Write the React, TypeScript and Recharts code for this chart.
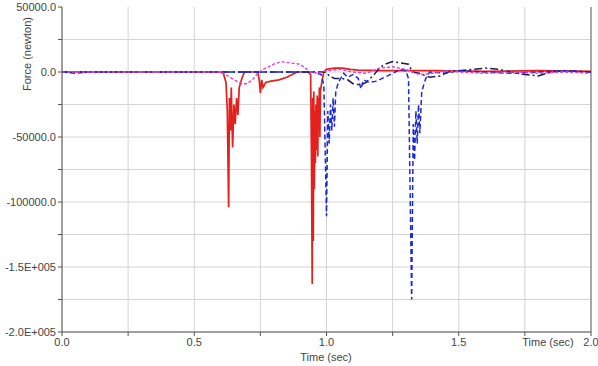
import React from "react";
import { LineChart, Line, XAxis, YAxis, CartesianGrid, ReferenceLine } from "recharts";

// time (sec) and force (x1000 newton) per series
const redT = [0, 0.3, 0.6, 0.61, 0.62, 0.625, 0.63, 0.633, 0.637, 0.64, 0.645, 0.65, 0.655, 0.66, 0.665, 0.67, 0.68, 0.69, 0.74, 0.745, 0.75, 0.755, 0.76, 0.77, 0.79, 0.82, 0.85, 0.87, 0.89, 0.93, 0.94, 0.943, 0.946, 0.948, 0.95, 0.952, 0.954, 0.956, 0.958, 0.96, 0.962, 0.965, 0.967, 0.969, 0.971, 0.973, 0.975, 0.977, 0.982, 0.99, 1.0, 1.03, 1.06, 1.09, 1.12, 1.2, 1.4, 1.6, 1.8, 2.0];
const redV = [0, 0, 0, -1, -8, -30, -104, -20, -45, -12, -58, -25, -40, -20, -33, -12, -5, 0, 0, -5, -16, -6, -12, -8, -7, -6, -4, -2, 0, 0, -2, -60, -163, -20, -130, -15, -90, -30, -70, -25, -60, -18, -65, -20, -45, -12, -50, -15, -8, 0, 2, 3, 3, 2, 1.5, 1, 1, 0.5, 1, 0.5];

const magT = [0, 0.6, 0.62, 0.65, 0.68, 0.7, 0.72, 0.74, 0.76, 0.8, 0.83, 0.86, 0.9, 0.92, 0.94, 0.97, 1.0, 1.05, 1.1, 1.15, 1.2, 1.25, 1.3, 1.35, 1.4, 1.45, 1.5, 1.6, 1.7, 1.8, 1.9, 2.0];
const magV = [0, 0, -2, -6, -9, -9, -6, -1, 2, 6, 8, 7, 6, 3, 0, -1, 1, 2, 0, -1, 3, 4, 2, -2, -1, 1, 0, -1, 0, -1, 0, -1];

const blueT = [0, 0.05, 0.1, 0.95, 0.98, 0.99, 1.0, 1.005, 1.01, 1.015, 1.02, 1.025, 1.03, 1.035, 1.045, 1.065, 1.08, 1.1, 1.12, 1.13, 1.14, 1.16, 1.19, 1.22, 1.25, 1.28, 1.3, 1.31, 1.322, 1.328, 1.333, 1.338, 1.343, 1.348, 1.353, 1.36, 1.375, 1.39, 1.45, 1.5, 1.6, 1.7, 1.8, 1.9, 2.0];
const blueV = [0, -1, 0, 0, -2, -10, -111, -30, -55, -25, -45, -20, -42, -15, -8, -1, -4, -2, -5, -13, -6, -8, -7, -4, -1, 2, 1, -5, -175, -40, -68, -30, -55, -25, -47, -15, -5, 0, -1, 1, 0, -1, 0, 1, 0];

const blackT = [0, 1.0, 1.01, 1.03, 1.06, 1.08, 1.1, 1.13, 1.15, 1.18, 1.2, 1.22, 1.25, 1.28, 1.31, 1.325, 1.35, 1.39, 1.43, 1.46, 1.5, 1.55, 1.6, 1.65, 1.7, 1.75, 1.8, 1.85, 1.9, 2.0];
const blackV = [0, 0, -3, -5, -5, -6, -9, -10, -8, -2, 3, 6, 8, 7, 6, 0, -1, -4, -3, 0, 1, 2, 3, 2, 0, -2, -3, 0, 1, 0];

const yTicks = [50000, 25000, 0, -25000, -50000, -75000, -100000, -125000, -150000, -175000, -200000];
const xTicks = [0, 0.25, 0.5, 0.75, 1.0, 1.25, 1.5, 1.75, 2.0];

const toData = (ts: number[], vs: number[]) => ts.map((t, i) => ({ t, v: vs[i] * 1000 }));

const fmtY = (v: number) => {
  if (v % 50000 !== 0) return "";
  if (v === -150000) return "-1.5E+005";
  if (v === -200000) return "-2.0E+005";
  return v.toFixed(1);
};
const fmtX = (v: number) => (Math.abs((v * 2) % 1) < 1e-9 ? v.toFixed(1) : "");

const font = "'Liberation Sans', Arial, sans-serif";
const tickStyle = { fontSize: 11, fill: "#444", fontFamily: font };

export default function App() {
  return (
    <div style={{ position: "absolute", left: 0, top: 0, width: 598, height: 366, background: "#fff", fontFamily: font }}>
      <LineChart width={598} height={366} margin={{ top: 7, right: 7, left: 0, bottom: 0 }}>
        <CartesianGrid stroke="#d4d4d4" horizontalValues={yTicks.slice(1)} verticalValues={xTicks} />
        <XAxis
          dataKey="t"
          type="number"
          domain={[0, 2]}
          ticks={xTicks}
          tickFormatter={fmtX}
          interval={0}
          height={34}
          stroke="#555"
          tickSize={4}
          tick={tickStyle}
          allowDuplicatedCategory={false}
        />
        <YAxis
          type="number"
          domain={[-200000, 50000]}
          ticks={yTicks}
          tickFormatter={fmtY}
          interval={0}
          width={62}
          stroke="#555"
          tickSize={4}
          tick={tickStyle}
        />
        <ReferenceLine x={2} stroke="#666" />
        <Line data={toData(redT, redV)} dataKey="v" stroke="#e4201c" strokeWidth={1.7} dot={false} isAnimationActive={false} />
        <Line data={toData(blackT, blackV)} dataKey="v" stroke="#1c1c4c" strokeWidth={1.5} strokeDasharray="8 3 2 3" dot={false} isAnimationActive={false} />
        <Line data={toData(blueT, blueV)} dataKey="v" stroke="#1c28d8" strokeWidth={1.5} strokeDasharray="5 3" dot={false} isAnimationActive={false} />
        <Line data={toData(magT, magV)} dataKey="v" stroke="#e040d0" strokeWidth={1.4} strokeDasharray="3 2" dot={false} isAnimationActive={false} />
      </LineChart>
      <div style={{ position: "absolute", left: 27, top: 54, transform: "translate(-50%, -50%) rotate(-90deg)", fontSize: 11, color: "#444", whiteSpace: "nowrap" }}>
        Force (newton)
      </div>
      <div style={{ position: "absolute", left: 326, top: 357, transform: "translate(-50%, -50%)", fontSize: 11, color: "#444", whiteSpace: "nowrap" }}>
        Time (sec)
      </div>
      <div style={{ position: "absolute", left: 548, top: 342, transform: "translate(-50%, -50%)", fontSize: 11, color: "#444", whiteSpace: "nowrap" }}>
        Time (sec)
      </div>
    </div>
  );
}
